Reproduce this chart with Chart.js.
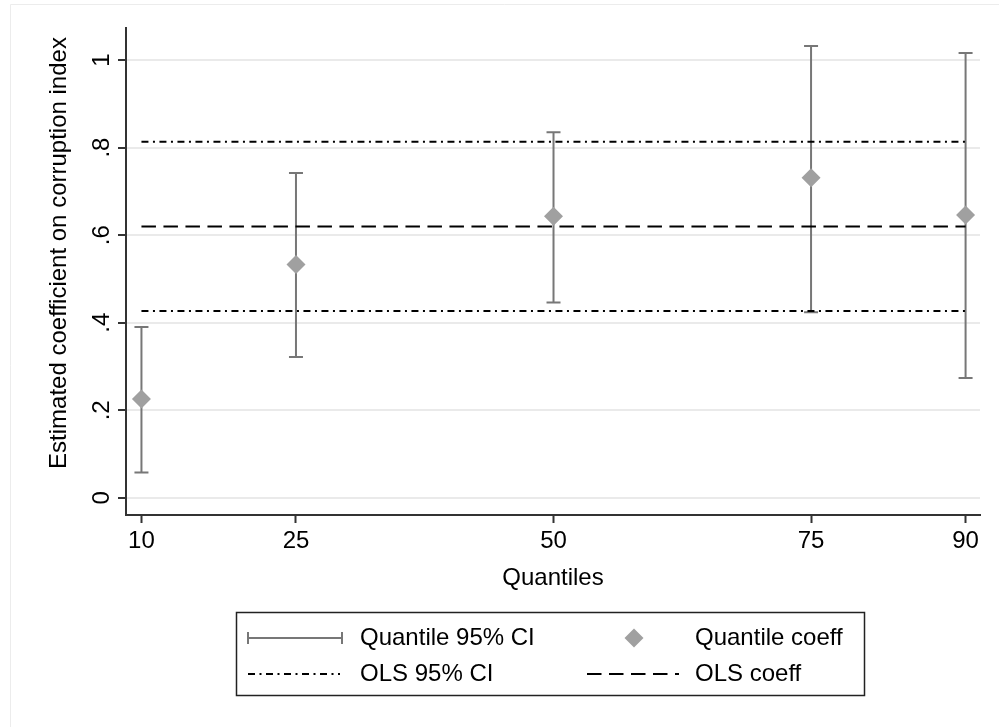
<!DOCTYPE html>
<html>
<head>
<meta charset="utf-8">
<script src="https://cdn.jsdelivr.net/npm/chart.js@4.4.0/dist/chart.umd.min.js"></script>
<style>
html,body{margin:0;padding:0;background:#fff;}
canvas{display:block;}
</style>
</head>
<body>
<canvas id="c" width="999" height="727"></canvas>
<script>
// ---- data ----
const quantiles = [10, 25, 50, 75, 90];
const quantileCoef = [0.226, 0.533, 0.643, 0.731, 0.646];
const quantileLower = [0.058, 0.322, 0.446, 0.424, 0.274];
const quantileUpper = [0.390, 0.742, 0.835, 1.032, 1.016];
const olsCoef = 0.620;
const olsLower = 0.427;
const olsUpper = 0.813;
const yTicks = [0, 0.2, 0.4, 0.6, 0.8, 1];
const yTickLabels = ['0', '.2', '.4', '.6', '.8', '1'];
const xTicks = [10, 25, 50, 75, 90];
const xTitle = 'Quantiles';
const yTitle = 'Estimated coefficient on corruption index';
const legendLabels = ['Quantile 95% CI', 'Quantile coeff', 'OLS 95% CI', 'OLS coeff'];

// ---- styles ----
const FONT = "'Liberation Sans', Arial, Helvetica, sans-serif";
const FS = 24;
const BAR_COLOR = '#777777';
const DIAMOND_COLOR = '#a0a0a0';
const AXIS_COLOR = '#333333';
const GRID_COLOR = '#eaeaea';
const DASH_DOT = [7, 4.5, 2, 4.5];
const DASH = [14.5, 7.5];

Chart.defaults.font.family = FONT;
Chart.defaults.color = '#000';

const xFirst = quantiles[0], xLast = quantiles[quantiles.length - 1];
const hLine = v => [{x: xFirst, y: v}, {x: xLast, y: v}];

const errorBars = {
  id: 'errorBars',
  beforeDatasetsDraw(chart) {
    const {ctx, scales: {x, y}} = chart;
    ctx.save();
    ctx.strokeStyle = BAR_COLOR;
    ctx.lineWidth = 2;
    quantiles.forEach((q, i) => {
      const px = x.getPixelForValue(q);
      const y1 = y.getPixelForValue(quantileLower[i]);
      const y2 = y.getPixelForValue(quantileUpper[i]);
      ctx.beginPath();
      ctx.moveTo(px, y1); ctx.lineTo(px, y2);
      ctx.moveTo(px - 7, y1); ctx.lineTo(px + 7, y1);
      ctx.moveTo(px - 7, y2); ctx.lineTo(px + 7, y2);
      ctx.stroke();
    });
    ctx.restore();
  }
};

const decor = {
  id: 'decor',
  beforeDraw(chart) {
    const ctx = chart.ctx;
    ctx.save();
    ctx.fillStyle = '#fff';
    ctx.fillRect(0, 0, chart.width, chart.height);
    ctx.strokeStyle = '#ececec';
    ctx.lineWidth = 1;
    ctx.beginPath();
    ctx.moveTo(10.5, 727); ctx.lineTo(10.5, 4.5); ctx.lineTo(999, 4.5);
    ctx.stroke();
    ctx.restore();
  },
  afterDraw(chart) {
    const ctx = chart.ctx;
    ctx.save();
    // y-axis title
    ctx.fillStyle = '#000';
    ctx.font = FS + 'px ' + FONT;
    ctx.textAlign = 'center';
    ctx.textBaseline = 'middle';
    ctx.translate(59, 253);
    ctx.rotate(-Math.PI / 2);
    ctx.fillText(yTitle, 0, 0);
    ctx.restore();

    // legend
    ctx.save();
    const L = 236.5, T = 612.5, R = 864.5, B = 695.5;
    ctx.strokeStyle = '#222';
    ctx.lineWidth = 1.5;
    ctx.strokeRect(L, T, R - L, B - T);
    const r1 = 638, r2 = 674;
    // error bar symbol
    ctx.strokeStyle = BAR_COLOR;
    ctx.lineWidth = 2;
    ctx.beginPath();
    ctx.moveTo(248, r1); ctx.lineTo(342, r1);
    ctx.moveTo(248, r1 - 6); ctx.lineTo(248, r1 + 6);
    ctx.moveTo(342, r1 - 6); ctx.lineTo(342, r1 + 6);
    ctx.stroke();
    // diamond
    ctx.fillStyle = DIAMOND_COLOR;
    ctx.beginPath();
    ctx.moveTo(634, r1 - 9.5); ctx.lineTo(643.5, r1); ctx.lineTo(634, r1 + 9.5); ctx.lineTo(624.5, r1);
    ctx.closePath(); ctx.fill();
    // dash-dot
    ctx.strokeStyle = '#000';
    ctx.lineWidth = 2;
    ctx.setLineDash(DASH_DOT);
    ctx.beginPath(); ctx.moveTo(248, r2); ctx.lineTo(340, r2); ctx.stroke();
    ctx.setLineDash(DASH);
    ctx.beginPath(); ctx.moveTo(587, r2); ctx.lineTo(679, r2); ctx.stroke();
    ctx.setLineDash([]);
    ctx.fillStyle = '#000';
    ctx.font = FS + 'px ' + FONT;
    ctx.textAlign = 'left';
    ctx.textBaseline = 'middle';
    ctx.fillText(legendLabels[0], 360, r1);
    ctx.fillText(legendLabels[1], 695, r1);
    ctx.fillText(legendLabels[2], 360, r2);
    ctx.fillText(legendLabels[3], 695, r2);
    ctx.restore();
  }
};

new Chart(document.getElementById('c'), {
  type: 'line',
  data: {
    datasets: [
      {
        label: legendLabels[1],
        type: 'scatter',
        data: quantiles.map((q, i) => ({x: q, y: quantileCoef[i]})),
        pointStyle: 'rectRot',
        pointRadius: 9.5,
        pointBackgroundColor: DIAMOND_COLOR,
        pointBorderColor: DIAMOND_COLOR,
        pointBorderWidth: 0,
        showLine: false
      },
      {
        label: legendLabels[3],
        data: hLine(olsCoef),
        borderColor: '#000', borderWidth: 2, borderDash: DASH,
        pointRadius: 0, fill: false
      },
      {
        label: legendLabels[2],
        data: hLine(olsUpper),
        borderColor: '#000', borderWidth: 2, borderDash: DASH_DOT,
        pointRadius: 0, fill: false
      },
      {
        label: legendLabels[2] + ' lower',
        data: hLine(olsLower),
        borderColor: '#000', borderWidth: 2, borderDash: DASH_DOT,
        pointRadius: 0, fill: false
      }
    ]
  },
  options: {
    responsive: false,
    animation: false,
    layout: {padding: {left: 0, top: 28, right: 19, bottom: 117}},
    plugins: {legend: {display: false}, tooltip: {enabled: false}},
    scales: {
      x: {
        type: 'linear',
        min: 8.5, max: 91.4,
        afterBuildTicks: s => { s.ticks = xTicks.map(v => ({value: v})); },
        afterFit: s => { s.height = 95; },
        ticks: {font: {size: FS}, color: '#000', padding: 4, maxRotation: 0, autoSkip: false,
                callback: v => String(v)},
        grid: {drawOnChartArea: false, tickLength: 8, tickColor: AXIS_COLOR, tickWidth: 2},
        border: {color: AXIS_COLOR, width: 2},
        title: {display: true, text: xTitle, font: {size: FS}, color: '#000', padding: {top: 0, bottom: 17.6}}
      },
      y: {
        type: 'linear',
        min: -0.039, max: 1.073,
        afterBuildTicks: s => { s.ticks = yTicks.map(v => ({value: v})); },
        afterFit: s => { s.width = 126; },
        ticks: {font: {size: FS}, color: '#000', padding: 6, minRotation: 90, maxRotation: 90,
                crossAlign: 'center', autoSkip: false,
                callback: v => yTickLabels[yTicks.findIndex(t => Math.abs(t - v) < 1e-9)]},
        grid: {color: GRID_COLOR, lineWidth: 2, tickLength: 8, tickColor: AXIS_COLOR, tickWidth: 2},
        border: {color: AXIS_COLOR, width: 2}
      }
    }
  },
  plugins: [decor, errorBars]
});
</script>
</body>
</html>
